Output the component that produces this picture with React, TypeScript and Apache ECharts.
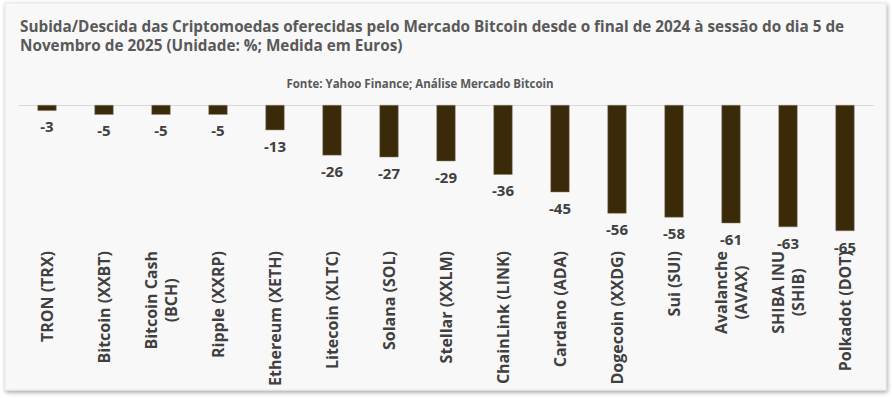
import React, { useEffect, useRef } from "react";
import * as echarts from "echarts";

const categories = [
  "TRON (TRX)",
  "Bitcoin (XXBT)",
  "Bitcoin Cash\n(BCH)",
  "Ripple (XXRP)",
  "Ethereum (XETH)",
  "Litecoin (XLTC)",
  "Solana (SOL)",
  "Stellar (XXLM)",
  "ChainLink (LINK)",
  "Cardano (ADA)",
  "Dogecoin (XXDG)",
  "Sui (SUI)",
  "Avalanche\n(AVAX)",
  "SHIBA INU\n(SHIB)",
  "Polkadot (DOT)",
];
const values = [-3, -5, -5, -5, -13, -26, -27, -29, -36, -45, -56, -58, -61, -63, -65];

const titleText =
  "Subida/Descida das Criptomoedas oferecidas pelo Mercado Bitcoin desde o final de 2024 à sessão do dia 5 de\nNovembro de 2025 (Unidade: %; Medida em Euros)";
const sourceText = "Fonte: Yahoo Finance; Análise Mercado Bitcoin";

const FONT = "'Open Sans', 'Noto Sans', sans-serif";

export default function App() {
  const ref = useRef<HTMLDivElement>(null);
  useEffect(() => {
    document.body.style.margin = "0";
    document.body.style.background = "#ffffff";
    if (!ref.current) return;
    const chart = echarts.init(ref.current, undefined, { renderer: "svg" });
    chart.setOption({
      animation: false,
      graphic: [
        {
          type: "rect",
          z: -10,
          silent: true,
          shape: { x: 5, y: 3, width: 881, height: 387 },
          style: {
            fill: "#f8f8f8",
            stroke: "#e6e6e6",
            lineWidth: 1,
            shadowBlur: 4,
            shadowOffsetX: 1,
            shadowOffsetY: 2,
            shadowColor: "rgba(0,0,0,0.35)",
          },
        },
      ],
      title: [
        {
          text: titleText,
          left: 15,
          top: 11,
          textStyle: {
            fontFamily: FONT,
            fontSize: 15.3,
            fontWeight: "bold",
            color: "#595959",
            lineHeight: 19,
          },
        },
        {
          text: sourceText,
          left: 415,
          textAlign: "center",
          top: 72,
          textStyle: {
            fontFamily: FONT,
            fontSize: 11.5,
            fontWeight: "bold",
            color: "#595959",
          },
        },
      ],
      grid: { left: 18.5, right: 18.5, top: 105, height: 126, containLabel: false },
      xAxis: [
        {
          type: "category",
          data: categories,
          position: "bottom",
          axisLine: { show: false, onZero: false },
          axisTick: { show: false },
          axisLabel: {
            rotate: 90,
            margin: 20,
            interval: 0,
            formatter: (v: string) =>
              v
                .split("\n")
                .map((s) => `{c|${s}}`)
                .join("\n"),
            rich: {
              c: {
                align: "center",
                fontFamily: FONT,
                fontSize: 16,
                fontWeight: "bold",
                color: "#404040",
                lineHeight: 20,
              },
            },
          },
        },
        {
          type: "category",
          data: categories,
          position: "top",
          axisLine: { show: true, onZero: false, lineStyle: { color: "#d9d9d9", width: 1 } },
          axisTick: { show: false },
          axisLabel: { show: false },
        },
      ],
      yAxis: {
        type: "value",
        min: -65,
        max: 0,
        show: false,
        splitLine: { show: false },
      },
      series: [
        {
          type: "bar",
          xAxisIndex: 0,
          data: values,
          barWidth: 19,
          itemStyle: { color: "#3a2a0a", borderColor: "#8a7d68", borderWidth: 0.5 },
          label: {
            show: true,
            position: "bottom",
            distance: 8,
            fontFamily: FONT,
            fontSize: 15,
            fontWeight: "bold",
            color: "#404040",
          },
        },
      ],
    });
    return () => chart.dispose();
  }, []);
  return <div ref={ref} style={{ width: 892, height: 398 }} />;
}
